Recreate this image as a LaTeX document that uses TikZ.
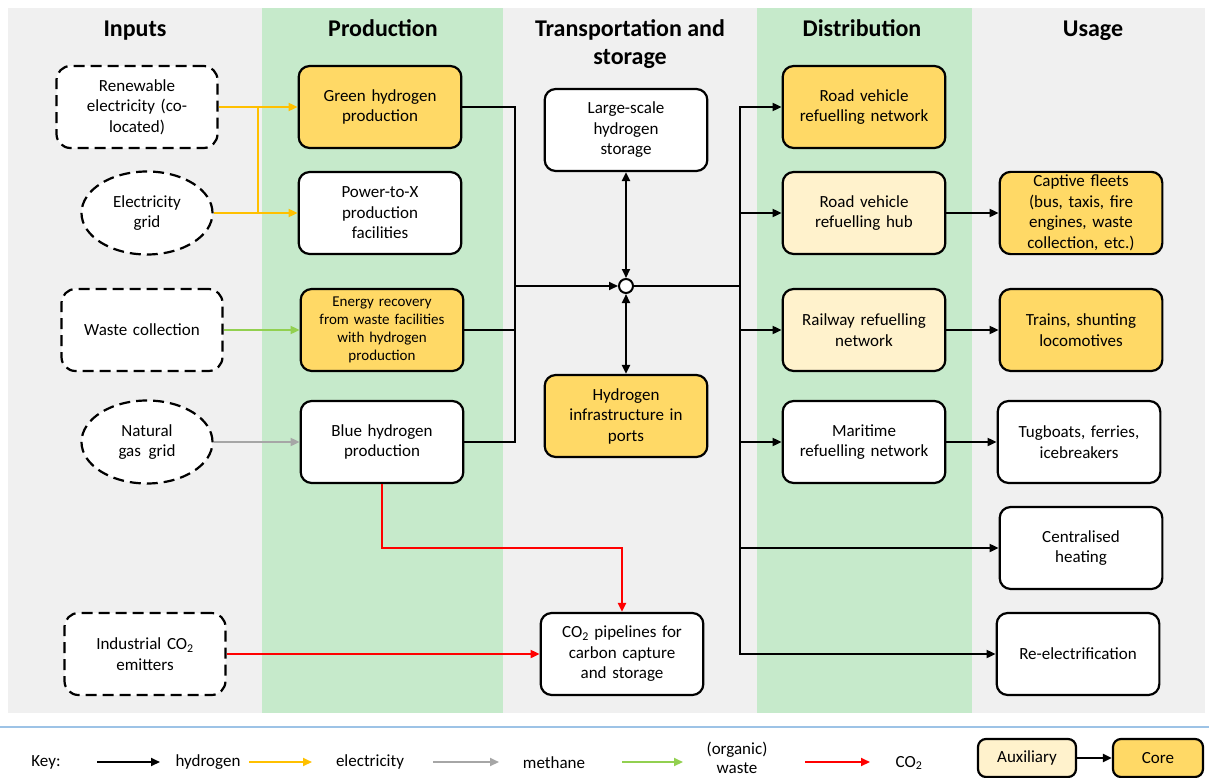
\documentclass[tikz,border=0pt]{standalone}
\usepackage{fontspec}
\setmainfont{Carlito}
\usetikzlibrary{arrows.meta,shapes.geometric,positioning}
\definecolor{bggrey}{HTML}{F0F0F0}
\definecolor{bggreen}{HTML}{C6EACB}
\definecolor{coreY}{HTML}{FFD966}
\definecolor{auxY}{HTML}{FFF2CC}
\definecolor{elecY}{HTML}{FFC000}
\definecolor{wasteG}{HTML}{92D050}
\definecolor{methG}{HTML}{A6A6A6}
\definecolor{co2R}{HTML}{FF0000}
\definecolor{keyblue}{HTML}{9DC3E6}
\tikzset{
  txt/.style={font=\fontsize{17}{20.5}\selectfont, align=center},
  box/.style={txt, draw, line width=2.2pt, rounded corners=11pt, minimum width=162pt, minimum height=82pt, text width=156pt, fill=white},
  core/.style={box, fill=coreY},
  aux/.style={box, fill=auxY},
  inbox/.style={txt, draw, line width=2.2pt, rounded corners=14pt, dash pattern=on 11pt off 6pt, minimum width=161pt, minimum height=82pt, text width=150pt, fill=white},
  inell/.style={txt, draw, line width=2.2pt, ellipse, dash pattern=on 11pt off 6pt, minimum width=131pt, minimum height=83pt, inner sep=0pt, fill=white},
  title/.style={font=\fontsize{24}{28}\selectfont\bfseries, align=center, anchor=base},
  tip/.style={-{Triangle[length=9pt,width=8pt]}},
  hyd/.style={tip, line width=2pt, black},
  elec/.style={tip, line width=2pt, elecY},
  wst/.style={tip, line width=2pt, wasteG},
  meth/.style={tip, line width=2pt, methG},
  co/.style={tip, line width=2pt, co2R},
  plain/.style={line width=2pt, black},
}
\begin{document}
\begin{tikzpicture}[x=1pt,y=-1pt]
\useasboundingbox (0,0) rectangle (1209,778);
% backgrounds
\fill[bggrey] (8,8) rectangle (1205,713);
\fill[bggreen] (262,8) rectangle (503,713);
\fill[bggreen] (757,8) rectangle (972,713);
% titles
\node[title] (tIn) at (135,37) {Inputs};
\node[title] (tProd) at (383,37) {Production};
\node[title] (tTr) at (630,65) {Transportation and\\storage};
\node[title] (tDist) at (862,37) {Distribution};
\node[title] (tUse) at (1093,37) {Usage};
% inputs
\node[inbox] (ren) at (137,107) {Renewable\\electricity (co-\\located)};
\node[inell] (grid) at (147,213) {Electricity\\grid};
\node[inbox] (waste) at (142,330) {Waste collection};
\node[inell] (gas) at (147,442) {Natural\\gas\ \ grid};
\node[inbox] (ind) at (145,654) {Industrial CO\textsubscript{2}\\emitters};
% production
\node[core] (green) at (380,107) {Green hydrogen\\production};
\node[box] (ptx) at (380,213) {Power-to-X\\production\\facilities};
\node[core, font=\fontsize{15}{18}\selectfont] (erec) at (382,330) {Energy recovery\\from waste facilities\\with hydrogen\\production};
\node[box] (blue) at (382,442) {Blue hydrogen\\production};
% transport
\node[box] (store) at (626,130) {Large-scale\\hydrogen\\storage};
\node[draw, circle, line width=2pt, fill=white, minimum size=14pt, inner sep=0pt] (jc) at (626,286) {};
\node[core] (ports) at (626,416) {Hydrogen\\infrastructure in\\ports};
\node[box] (pipe) at (622,654) {CO\textsubscript{2} pipelines for\\carbon capture\\and storage};
% distribution
\node[core] (rvn) at (864,107) {Road vehicle\\refuelling network};
\node[aux] (hub) at (864,213) {Road vehicle\\refuelling hub};
\node[aux] (rail) at (864,330) {Railway refuelling\\network};
\node[box] (mar) at (864,442) {Maritime\\refuelling network};
% usage
\node[core] (fleet) at (1081,213) {Captive fleets\\(bus, taxis, fire\\engines, waste\\collection, etc.)};
\node[core] (train) at (1081,330) {Trains, shunting\\locomotives};
\node[box] (tug) at (1079,442) {Tugboats, ferries,\\icebreakers};
\node[box] (heat) at (1081,548) {Centralised\\heating};
\node[box] (reel) at (1078,654) {Re-electrification};
% junction coordinates
\coordinate (j1) at (515,286);
\coordinate (j2) at (740,286);
\coordinate (ey) at (258,107);
% electricity
\draw[elec] (ren.east) -- (green.west);
\draw[elec] (grid.east) -- (ptx.west);
\draw[line width=2pt, elecY] (ey) -- (ey |- ptx.west);
% waste, methane
\draw[wst] (waste.east) -- (erec.west);
\draw[meth] (gas.east) -- (blue.west);
% hydrogen
\draw[plain] (green.east) -| (j1);
\draw[plain] (erec.east) -| (j1);
\draw[plain] (blue.east) -| (j1);
\draw[hyd] (j1) -- (jc.west);
\draw[hyd, {Triangle[length=9pt,width=8pt]}-{Triangle[length=9pt,width=8pt]}] (store.south) -- (jc.north);
\draw[hyd, {Triangle[length=9pt,width=8pt]}-{Triangle[length=9pt,width=8pt]}] (jc.south) -- (ports.north);
\draw[plain] (jc.east) -- (j2);
\draw[hyd] (j2) |- (rvn.west);
\draw[hyd] (j2) |- (hub.west);
\draw[hyd] (j2) |- (rail.west);
\draw[hyd] (j2) |- (mar.west);
\draw[hyd] (j2) |- (heat.west);
\draw[hyd] (j2) |- (reel.west);
\draw[hyd] (hub.east) -- (fleet.west);
\draw[hyd] (rail.east) -- (train.west);
\draw[hyd] (mar.east) -- (tug.west);
% CO2
\draw[co] (blue.south) -- ++(0,64) -| (pipe.north);
\draw[co] (ind.east) -- (pipe.west);
% key
\draw[keyblue, line width=1.2pt] (0,727) -- (1209,727);
\node[txt] (key) at (46,762) {Key:};
\coordinate (k1a) at (97,762); \coordinate (k1b) at (160,762);
\draw[hyd] (k1a) -- (k1b);
\node[txt] (khyd) at (208,762) {hydrogen};
\coordinate (k2a) at (249,762); \coordinate (k2b) at (312,762);
\draw[elec] (k2a) -- (k2b);
\node[txt] (kel) at (370,762) {electricity};
\coordinate (k3a) at (433,762); \coordinate (k3b) at (499,762);
\draw[meth] (k3a) -- (k3b);
\node[txt] (kme) at (554,763) {methane};
\coordinate (k4a) at (622,762); \coordinate (k4b) at (683,762);
\draw[wst] (k4a) -- (k4b);
\node[txt, font=\fontsize{17}{19}\selectfont] (kwa) at (737,758) {(organic)\\waste};
\coordinate (k5a) at (805,762); \coordinate (k5b) at (870,762);
\draw[co] (k5a) -- (k5b);
\node[txt] (kco) at (909,763) {CO\textsubscript{2}};
\node[aux, minimum width=98pt, minimum height=38pt, text width=90pt, rounded corners=8pt] (kaux) at (1027,758) {Auxiliary};
\node[core, minimum width=90pt, minimum height=38pt, text width=82pt, rounded corners=8pt] (kcore) at (1158,758) {Core};
\draw[hyd] (kaux.east) -- (kcore.west);
\end{tikzpicture}
\end{document}
